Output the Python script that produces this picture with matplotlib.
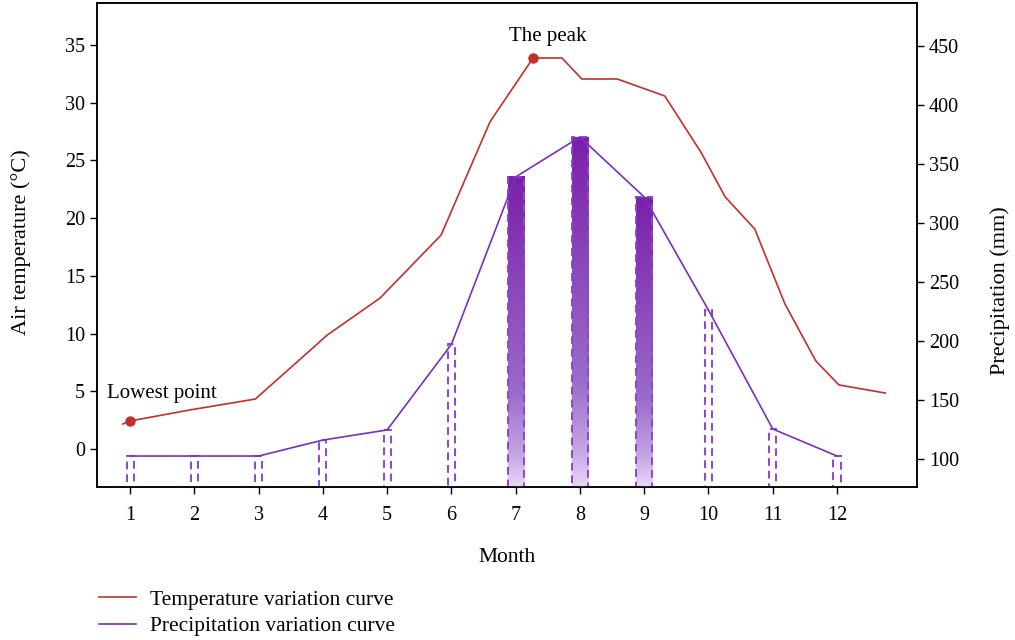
import matplotlib.pyplot as plt
import numpy as np
from matplotlib.colors import LinearSegmentedColormap
from matplotlib.lines import Line2D
from matplotlib.patches import Rectangle

plt.rcParams['font.family'] = ['Liberation Serif', 'DejaVu Serif']

# data
months = list(range(1, 13))
month_labels = [str(m) for m in months]
precip = [102.5, 102.5, 102.5, 116, 124.6, 197, 338.8, 372.6, 321.8, 226, 125.4, 102.5]
filled = [7, 8, 9]   # months drawn as gradient bars

# temperature curve vertices (x in month units)
temp_x = [0.89, 1.0, 1.93, 2.95, 4.07, 4.89, 5.84, 6.60, 7.27, 7.72, 8.03, 8.58,
          9.32, 9.88, 10.26, 10.72, 11.19, 11.67, 12.03, 12.75]
temp_y = [2.17, 2.43, 3.38, 4.33, 9.88, 13.08, 18.54, 28.34, 33.88, 33.88, 32.06, 32.06,
          30.59, 25.74, 21.84, 19.06, 12.56, 7.63, 5.55, 4.85]
lowest = (1.0, 2.43)
peak = (7.27, 33.88)

red = '#c3302b'
purple = '#7b2fbe'
dash_purple = '#9243cc'

fig = plt.figure(figsize=(10.15, 6.4), dpi=100)
ax = fig.add_axes([0.0956, 0.2391, 0.8079, 0.7563])
ax2 = ax.twinx()

ax.set_xlim(0.4865, 13.245)
ax.set_ylim(-3.29, 38.65)
ax2.set_ylim(76.3, 486.1)

# temperature
ax.plot(temp_x, temp_y, color=red, lw=1.2, zorder=3)
ax.plot(*lowest, 'o', color=red, ms=6.5, zorder=4)
ax.plot(*peak, 'o', color=red, ms=6.5, zorder=4)
ax.text(0.64, 4.8, 'Lowest point', fontsize=15, va='center', ha='left')
ax.text(7.5, 35.7, 'The peak', fontsize=15, va='center', ha='center')

# precipitation bars
cmap = LinearSegmentedColormap.from_list('pp', [(0, '#e8d6f5'), (0.1, '#c4a8e4'),
                                               (0.3, '#9a6cc9'), (1, '#7a20aa')])
grad = np.linspace(0, 1, 256).reshape(-1, 1)
ybot = ax2.get_ylim()[0]
for m, p in zip(months, precip):
    if m in filled:
        w = 0.25
        ax2.imshow(grad, extent=[m - w / 2, m + w / 2, ybot, p], origin='lower',
                   aspect='auto', cmap=cmap, zorder=2)
    else:
        w = 0.11
    ax2.add_patch(Rectangle((m - w / 2, ybot), w, p - ybot, fill=False,
                            edgecolor=dash_purple, ls=(0, (4, 2.5)), lw=1.4, zorder=2.5))

ax2.plot(months, precip, color=purple, lw=1.2, zorder=3)

ax.set_xlim(0.4865, 13.245)
ax2.set_ylim(76.3, 486.1)

# axes styling
ax.set_xticks(months)
ax.set_xticklabels(month_labels)
ax.set_yticks(range(0, 40, 5))
ax2.set_yticks(range(100, 500, 50))
for a in (ax, ax2):
    a.tick_params(labelsize=14.5, length=5, width=1, direction='out')
    for s in a.spines.values():
        s.set_linewidth(1.1)
ax.tick_params(axis='x', pad=9)
ax.set_xlabel('Month', fontsize=15.5, labelpad=16)
ax.set_ylabel('Air temperature (°C)', fontsize=16)
ax.yaxis.set_label_coords(-0.080, 0.506)
ax2.set_ylabel('Precipitation (mm)', fontsize=16)
ax2.yaxis.set_label_coords(1.089, 0.405)

# legend below the plot
handles = [Line2D([], [], color=red, lw=1.2), Line2D([], [], color=purple, lw=1.2)]
fig.legend(handles, ['Temperature variation curve', 'Precipitation variation curve'],
           loc='upper left', bbox_to_anchor=(0.078, 0.109), frameon=False, fontsize=15.5,
           handlelength=1.75, handletextpad=0.65, labelspacing=0.3)

fig.savefig('out.png', dpi=100)
